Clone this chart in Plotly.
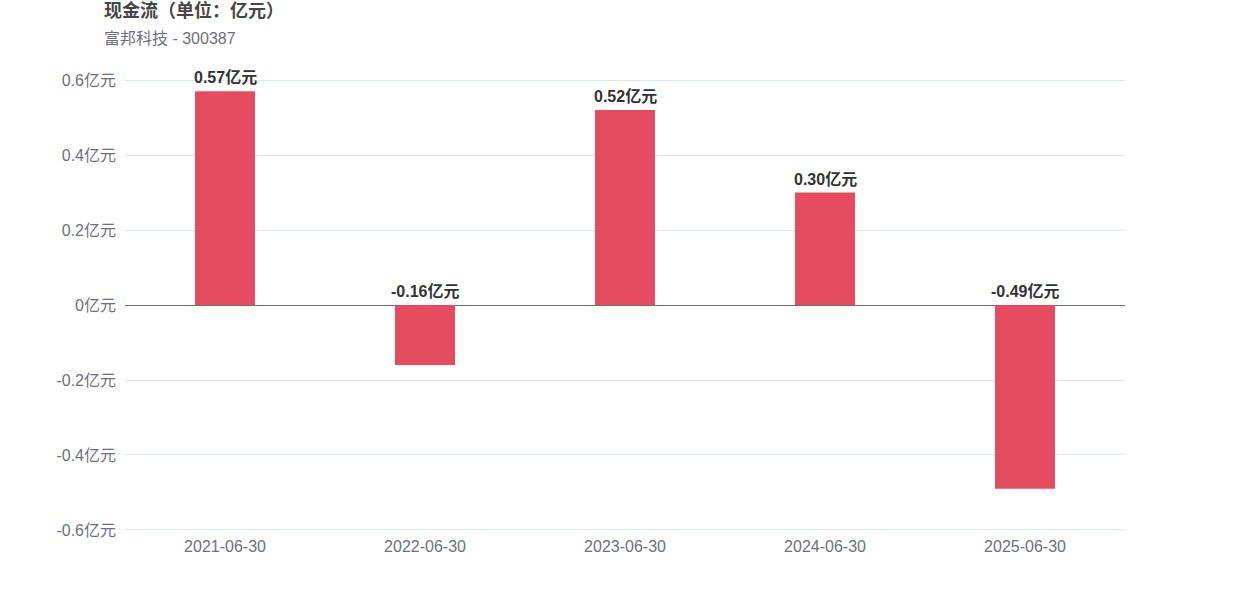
import plotly.graph_objects as go

categories = ["2021-06-30", "2022-06-30", "2023-06-30", "2024-06-30", "2025-06-30"]
values = [0.57, -0.16, 0.52, 0.30, -0.49]
labels = ["0.57亿元", "-0.16亿元", "0.52亿元", "0.30亿元", "-0.49亿元"]
tick_vals = [-0.6, -0.4, -0.2, 0, 0.2, 0.4, 0.6]
tick_text = ["-0.6亿元", "-0.4亿元", "-0.2亿元", "0亿元", "0.2亿元", "0.4亿元", "0.6亿元"]
title_text = "现金流（单位：亿元）"
subtitle_text = "富邦科技 - 300387"

FONT = "Liberation Sans, Arial, Noto Sans CJK SC, sans-serif"

fig = go.Figure()
fig.add_trace(go.Bar(
    x=categories, y=values, width=0.3,
    marker=dict(color="#e64c5f", line=dict(width=0)),
    hoverinfo="skip",
))

annotations = []
for c, v, t in zip(categories, values, labels):
    annotations.append(dict(
        x=c, y=max(v, 0), xref="x", yref="y", text=t, showarrow=False,
        xanchor="center", yanchor="bottom", yshift=3,
        font=dict(family=FONT, size=16, color="#333333", weight="bold"),
    ))

annotations += [
    dict(text=title_text, xref="paper", yref="paper", x=-0.023, y=1.151,
         xanchor="left", yanchor="middle", showarrow=False,
         font=dict(family=FONT, size=18, color="#464646", weight="bold")),
    dict(text=subtitle_text, xref="paper", yref="paper", x=-0.023, y=1.0889,
         xanchor="left", yanchor="middle", showarrow=False,
         font=dict(family=FONT, size=16, color="#6e7079")),
]

fig.update_layout(
    width=1250, height=600,
    margin=dict(l=125, r=125, t=79, b=69),
    paper_bgcolor="white", plot_bgcolor="white",
    showlegend=False,
    font=dict(family=FONT, size=16, color="#6e7079"),
    xaxis=dict(
        type="category", range=[-0.5, 4.5],
        showgrid=False, showline=False, ticks="", zeroline=False,
        tickfont=dict(size=16, color="#6e7079"),
        ticklabelstandoff=4,
    ),
    yaxis=dict(
        range=[-0.6027, 0.6027], tickvals=tick_vals, ticktext=tick_text,
        showgrid=True, gridcolor="#e0e6f1", gridwidth=1,
        zeroline=True, zerolinecolor="#6e7079", zerolinewidth=1,
        showline=False, ticks="",
        tickfont=dict(size=16, color="#6e7079"),
        ticklabelstandoff=8,
    ),
    annotations=annotations,
)

fig.write_html(
    "out.html",
    config={"displayModeBar": False},
    post_script="document.body.style.margin='0';document.body.style.overflow='hidden';",
)
